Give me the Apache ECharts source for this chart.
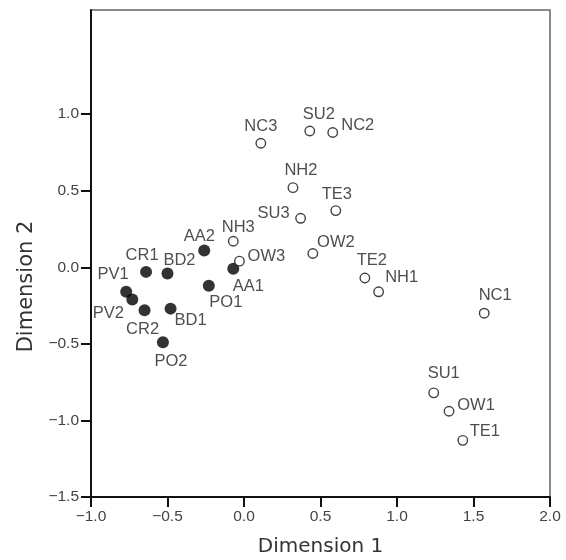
<!DOCTYPE html>
<html>
<head>
<meta charset="utf-8">
<script src="https://cdn.jsdelivr.net/npm/echarts@6/dist/echarts.min.js"></script>
<style>
html,body{margin:0;padding:0;background:#fff;}
#chart{width:566px;height:560px;}
</style>
</head>
<body>
<div id="chart"></div>
<script>
// Filled points (group 1)
var filledNames = ['CR1','BD2','AA2','AA1','PO1','PV1','PV2','CR2','BD1','PO2'];
var filledDim1  = [-0.64,-0.50,-0.26,-0.07,-0.23,-0.77,-0.73,-0.65,-0.48,-0.53];
var filledDim2  = [-0.03,-0.04, 0.11,-0.01,-0.12,-0.16,-0.21,-0.28,-0.27,-0.49];

// Open points (group 2)
var openNames = ['NC3','NH3','OW3','SU3','NH2','SU2','NC2','TE3','OW2','TE2','NH1','NC1','SU1','OW1','TE1'];
var openDim1  = [0.11,-0.07,-0.03,0.37,0.32,0.43,0.58,0.60,0.45,0.79,0.88,1.57,1.24,1.34,1.43];
var openDim2  = [0.81, 0.17, 0.04,0.32,0.52,0.89,0.88,0.37,0.09,-0.07,-0.16,-0.30,-0.82,-0.94,-1.13];

// Tick labels
var xTicks = [-1.0,-0.5,0.0,0.5,1.0,1.5,2.0];
var yTicks = [-1.5,-1.0,-0.5,0.0,0.5,1.0];

// Label offsets (layout only, pixels)
var filledLabelOffsets = [[-4,-16],[12,-13],[-5,-14],[15,18],[17,17],[-13,-17],[-24,14],[-2,19],[20,12],[8,19]];
var openLabelOffsets = [[0,-17],[5,-14],[27,-5],[-27,-5],[8,-17],[9,-17],[25,-7],[1,-16],[23,-11],[7,-18],[23,-14],[11,-18],[10,-19],[27,-6],[22,-9]];

function build(names, xs, ys, offs){
  return names.map(function(n,i){
    return {value:[xs[i], ys[i]], name:n, label:{offset:offs[i]}};
  });
}
function fmt(v){ return v.toFixed(1).replace('-', '\u2212'); }

var chart = echarts.init(document.getElementById('chart'), null, {renderer:'canvas'});
var labelStyle = {
  show:true, position:'inside', formatter:'{b}',
  fontFamily:'Liberation Sans, Arial, sans-serif', fontSize:16.5, color:'#222',
  align:'center', verticalAlign:'middle'
};
chart.setOption({
  animation:false,
  backgroundColor:'#fff',
  grid:{left:91, top:10, right:16, bottom:63, containLabel:false, outerBoundsMode:'none',
        show:true, borderColor:'#666', borderWidth:1.5, backgroundColor:'transparent'},
  xAxis:{
    type:'value', min:-1, max:2, interval:0.5,
    name:'Dimension 1', nameLocation:'middle', nameGap:40,
    nameTextStyle:{fontFamily:'DejaVu Sans, sans-serif', fontSize:20, color:'#333'},
    axisLine:{show:true, onZero:false, lineStyle:{color:'#111', width:2}},
    axisTick:{show:true, inside:false, length:10, lineStyle:{color:'#111', width:2}, customValues:xTicks},
    axisLabel:{customValues:xTicks, formatter:fmt, margin:12, fontFamily:'Liberation Sans, Arial, sans-serif', fontSize:15.5, color:'#444'},
    splitLine:{show:false}
  },
  yAxis:{
    type:'value', min:-1.5, max:1.68, interval:0.5,
    name:'Dimension 2', nameLocation:'middle', nameGap:54,
    nameTextStyle:{fontFamily:'DejaVu Sans, sans-serif', fontSize:21, color:'#333', padding:[0,66,0,0]},
    axisLine:{show:true, onZero:false, lineStyle:{color:'#111', width:2}},
    axisTick:{show:true, inside:false, length:10, lineStyle:{color:'#111', width:2}, customValues:yTicks},
    axisLabel:{customValues:yTicks, formatter:fmt, margin:12, fontFamily:'Liberation Sans, Arial, sans-serif', fontSize:15.5, color:'#444'},
    splitLine:{show:false}
  },
  series:[
    {
      type:'scatter', name:'group1', symbol:'circle', symbolSize:12,
      itemStyle:{color:'#000'},
      label:labelStyle,
      data:build(filledNames, filledDim1, filledDim2, filledLabelOffsets)
    },
    {
      type:'scatter', name:'group2', symbol:'circle', symbolSize:9.5,
      itemStyle:{color:'#fff', borderColor:'#111', borderWidth:1.4},
      label:labelStyle,
      data:build(openNames, openDim1, openDim2, openLabelOffsets)
    }
  ]
});
</script>
</body>
</html>
